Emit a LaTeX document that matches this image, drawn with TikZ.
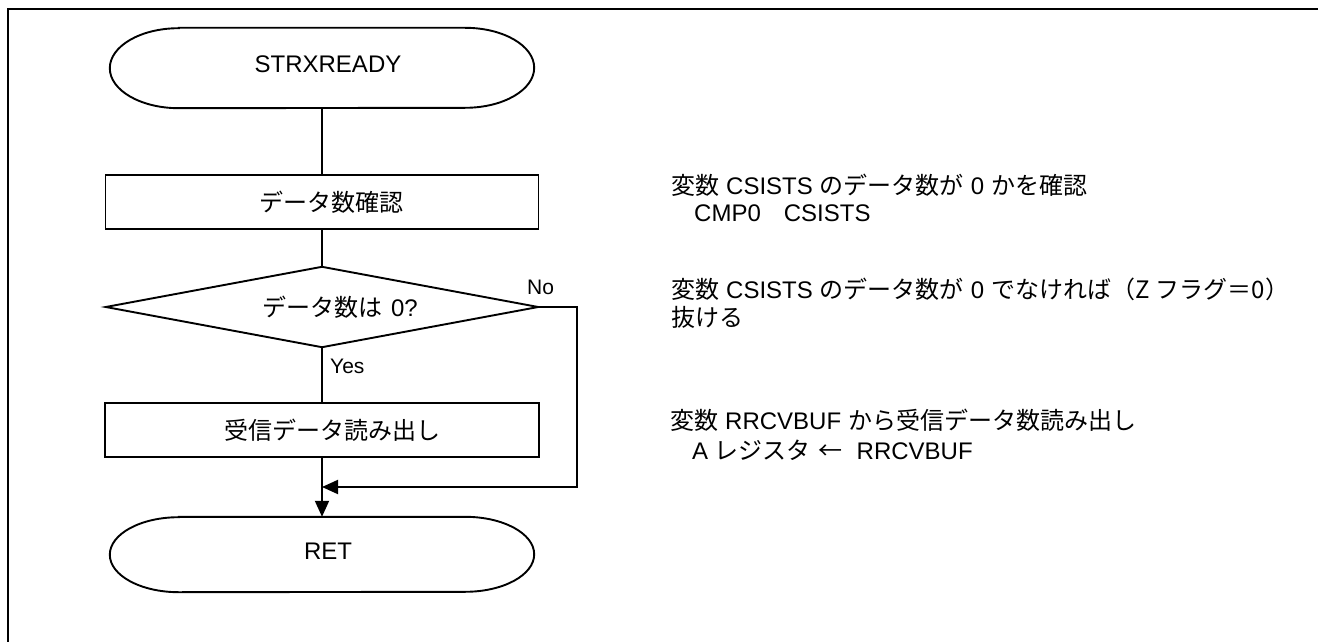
\documentclass[tikz,border=0pt]{standalone}
\usepackage{fontspec}
\setmainfont{Liberation Sans}
\newfontfamily\jpfont{Noto Sans CJK JP}
\usetikzlibrary{arrows.meta}
\newcommand\J[1]{{\fontsize{24}{28}\selectfont\jpfont #1}}
\newcommand\gapx{\hspace{7pt}}
\newcommand\shiftr[1]{\hspace*{#1}}
\tikzset{
  shapeline/.style={line width=1.9pt, line join=miter},
  term/.style={rectangle, draw=none, inner sep=0pt, minimum width=424pt,
    font=\fontsize{24}{28}\selectfont, text height=17.2pt, text depth=8pt},
  proc/.style={rectangle, draw, shapeline, inner sep=0pt, minimum height=54pt,
    font=\fontsize{24}{28}\selectfont},
  dec/.style={rectangle, draw=none, inner sep=0pt, minimum width=432pt,
    minimum height=80pt, font=\fontsize{24}{28}\selectfont},
  note/.style={anchor=base west, inner sep=0pt, font=\fontsize{24}{28}\selectfont},
  yn/.style={anchor=base west, inner sep=0pt, font=\fontsize{21}{25}\selectfont},
  flow/.style={shapeline},
  arrowflow/.style={shapeline, -{Triangle[length=16pt,width=14pt]}},
}
\begin{document}
\begin{tikzpicture}[x=1pt,y=-1pt]
\useasboundingbox (0,0) rectangle (1318,642);
\fill[white] (0,0) rectangle (1318,642);
% frame
\draw[line width=2pt] (8,642) -- (8,9) -- (1318,9);

% start terminal
\node[term, minimum height=80pt] (start) at (322,68) {\shiftr{12pt}STRXREADY};
\draw[shapeline] ([xshift=69pt]start.north west) -- ([xshift=-69pt]start.north east)
  arc[start angle=90, end angle=-90, x radius=69pt, y radius=40pt]
  -- ([xshift=69pt]start.south west)
  arc[start angle=270, end angle=90, x radius=69pt, y radius=40pt] -- cycle;

% process 1
\node[proc, minimum width=433pt] (p1) at (322,202) {\shiftr{19pt}\J{データ数確認}};

% decision
\node[dec] (d) at (322,307) {\shiftr{36pt}\J{データ数は}\hspace{9pt}0?};
\draw[shapeline] (d.north) -- (d.east) -- (d.south) -- (d.west) -- cycle;

% process 2
\node[proc, minimum width=434pt] (p2) at (322,430) {\shiftr{20pt}\J{受信データ読み出し}};

% end terminal
\node[term, minimum height=75pt] (ret) at (322,554.5) {\shiftr{12pt}RET};
\draw[shapeline] ([xshift=69pt]ret.north west) -- ([xshift=-69pt]ret.north east)
  arc[start angle=90, end angle=-90, x radius=69pt, y radius=37.5pt]
  -- ([xshift=69pt]ret.south west)
  arc[start angle=270, end angle=90, x radius=69pt, y radius=37.5pt] -- cycle;

% connectors
\draw[flow] (start.south) -- (p1.north);
\draw[flow] (p1.south) -- (d.north);
\draw[flow] (d.south) -- (p2.north);
\draw[arrowflow] (p2.south) -- (ret.north);
\coordinate (nocorner) at (577,487);
\draw[arrowflow] (d.east) -| (nocorner) -- (nocorner -| p2.south);

% labels
\node[yn] (nolab) at (527,294) {No};
\node[yn] (yeslab) at (330,373) {Yes};

% notes
\node[note] (n1) at (671,194) {\J{変数}\gapx CSISTS\gapx\J{のデータ数が}\gapx 0\gapx\J{かを確認}};
\node[note] (n2) at (694,221) {CMP0\hspace{23pt}CSISTS};
\node[note] (n3) at (671,298) {\J{変数}\gapx CSISTS\gapx\J{のデータ数が}\gapx 0\gapx\J{でなければ（Z\hspace{6pt}フラグ＝0）}};
\node[note] (n4) at (671,326) {\J{抜ける}};
\node[note] (n5) at (670,429) {\J{変数}\gapx RRCVBUF\gapx\J{から受信データ数読み出し}};
\node[note] (n6) at (692,459) {A\hspace{6.5pt}\J{レジスタ}\hspace{8pt}\J{←}\hspace{14pt}RRCVBUF};
\end{tikzpicture}
\end{document}
